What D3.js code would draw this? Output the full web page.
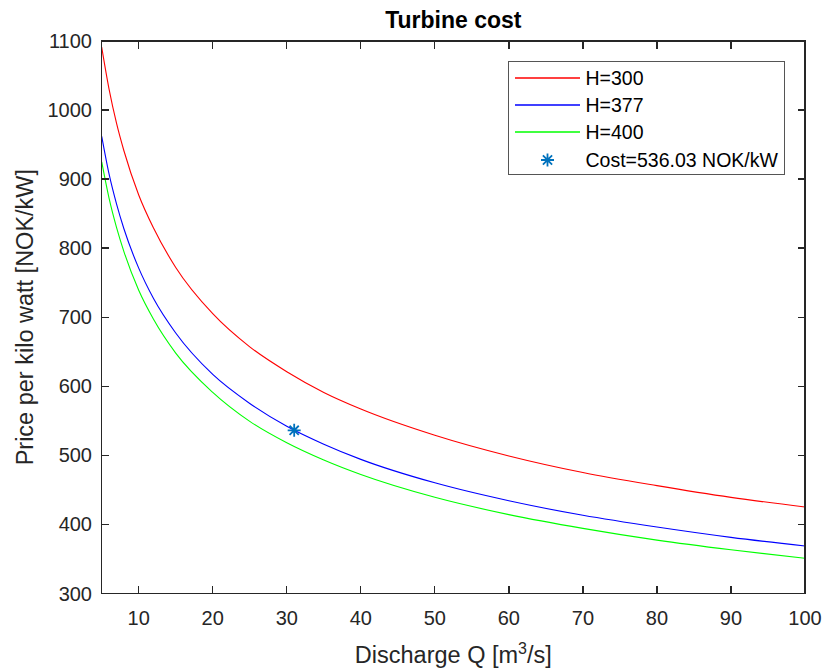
<!DOCTYPE html>
<html>
<head>
<meta charset="utf-8">
<script src="https://cdn.jsdelivr.net/npm/d3@7"></script>
<style>
  html, body { margin: 0; padding: 0; background: #fff; }
  svg { display: block; }
  text { font-family: "Liberation Sans", Arial, Helvetica, sans-serif; }
</style>
</head>
<body>
<svg id="chart" width="823" height="669"></svg>
<script>
// Discharge values (m^3/s) where the cost curves are sampled
const discharge = [5, 6, 7, 8, 10, 12, 15, 20, 25, 30, 35, 40, 50, 60, 70, 80, 90, 100];

// Price per kilowatt (NOK/kW) for each head
const costH300 = [1091, 1030, 981, 941, 877, 829, 772, 705, 657, 621, 591, 567, 529, 499, 475, 456, 439, 425];
const costH377 = [962, 907, 864, 828, 771, 727, 677, 617, 575, 542, 516, 494, 460, 434, 413, 396, 381, 368.5];
const costH400 = [925, 872, 830, 795, 739, 697, 648, 591, 549, 518, 493, 472, 439, 414, 394, 377, 363, 350.7];

const seriesNames = ["H=300", "H=377", "H=400"];
const seriesColors = ["#ff0000", "#0000ff", "#00ff00"];

// Selected operating point
const pointQ = 31;
const pointCost = 536.03;
const pointLabel = "Cost=536.03 NOK/kW";

const xTicks = [10, 20, 30, 40, 50, 60, 70, 80, 90, 100];
const yTicks = [300, 400, 500, 600, 700, 800, 900, 1000, 1100];

const svg = d3.select("#chart");
const plotLeft = 101.7, plotRight = 805, plotTop = 41, plotBottom = 593.3;
const axisColor = "#262626";

const x = d3.scaleLinear().domain([5, 100]).range([plotLeft, plotRight]);
const y = d3.scaleLinear().domain([300, 1100]).range([plotBottom, plotTop]);

// Curves
const allSeries = [costH300, costH377, costH400];
const line = d3.line()
  .x((d, i) => x(discharge[i]))
  .y(d => y(d))
  .curve(d3.curveMonotoneX);

const plot = svg.append("g");
allSeries.forEach((vals, k) => {
  plot.append("path")
    .datum(vals)
    .attr("d", line)
    .attr("fill", "none")
    .attr("stroke", seriesColors[k])
    .attr("stroke-width", 1.1);
});

// Asterisk marker
function asterisk(g, cx, cy, r) {
  const d = r * Math.SQRT1_2;
  const p = `M${cx - r},${cy}L${cx + r},${cy}M${cx},${cy - r}L${cx},${cy + r}` +
            `M${cx - d},${cy - d}L${cx + d},${cy + d}M${cx - d},${cy + d}L${cx + d},${cy - d}`;
  g.append("path").attr("d", p).attr("stroke", "#0072bd").attr("stroke-width", 1.8).attr("fill", "none");
}
asterisk(plot, x(pointQ), y(pointCost), 6.5);

// Axes (box with ticks on all four sides, ticks pointing inward)
const tickLen = 7.5;
const axes = svg.append("g").attr("shape-rendering", "crispEdges");
axes.append("rect")
  .attr("x", plotLeft).attr("y", plotTop)
  .attr("width", plotRight - plotLeft).attr("height", plotBottom - plotTop)
  .attr("fill", "none").attr("stroke", axisColor).attr("stroke-width", 1.3);

xTicks.forEach(t => {
  axes.append("line").attr("x1", x(t)).attr("x2", x(t)).attr("y1", plotBottom).attr("y2", plotBottom - tickLen)
    .attr("stroke", axisColor).attr("stroke-width", 1.3);
  axes.append("line").attr("x1", x(t)).attr("x2", x(t)).attr("y1", plotTop).attr("y2", plotTop + tickLen)
    .attr("stroke", axisColor).attr("stroke-width", 1.3);
});
yTicks.forEach(t => {
  axes.append("line").attr("x1", plotLeft).attr("x2", plotLeft + tickLen).attr("y1", y(t)).attr("y2", y(t))
    .attr("stroke", axisColor).attr("stroke-width", 1.3);
  axes.append("line").attr("x1", plotRight).attr("x2", plotRight - tickLen).attr("y1", y(t)).attr("y2", y(t))
    .attr("stroke", axisColor).attr("stroke-width", 1.3);
});

// Tick labels
const labels = svg.append("g").attr("fill", axisColor).attr("font-size", 20);
xTicks.forEach(t => {
  labels.append("text").attr("x", x(t)).attr("y", 624.5).attr("text-anchor", "middle").text(t);
});
yTicks.forEach(t => {
  labels.append("text").attr("x", 92).attr("y", y(t)).attr("dy", "0.36em").attr("text-anchor", "end").text(t);
});

// Axis labels and title
const xl = svg.append("text")
  .attr("x", (plotLeft + plotRight) / 2).attr("y", 663)
  .attr("text-anchor", "middle").attr("font-size", 23.5).attr("fill", axisColor);
xl.append("tspan").text("Discharge Q [m");
xl.append("tspan").attr("dy", -9).attr("font-size", 16).text("3");
xl.append("tspan").attr("dy", 9).text("/s]");

svg.append("text")
  .attr("transform", `translate(33,${(plotTop + plotBottom) / 2}) rotate(-90)`)
  .attr("text-anchor", "middle").attr("font-size", 23.5).attr("fill", axisColor)
  .text("Price per kilo watt [NOK/kW]");

svg.append("text")
  .attr("x", (plotLeft + plotRight) / 2).attr("y", 28)
  .attr("text-anchor", "middle").attr("font-size", 23).attr("font-weight", "bold").attr("fill", "#000")
  .text("Turbine cost");

// Legend
const lg = svg.append("g");
lg.append("rect").attr("x", 508.5).attr("y", 61.5).attr("width", 276).attr("height", 113)
  .attr("fill", "#fff").attr("stroke", "#555").attr("stroke-width", 1).attr("shape-rendering", "crispEdges");
const rowY = [78, 105, 132, 160];
seriesNames.forEach((name, k) => {
  lg.append("line").attr("x1", 515).attr("x2", 580).attr("y1", rowY[k]).attr("y2", rowY[k])
    .attr("stroke", seriesColors[k]).attr("stroke-width", 1.3);
  lg.append("text").attr("x", 585.5).attr("y", rowY[k]).attr("dy", "0.36em")
    .attr("font-size", 19.5).attr("fill", "#000").text(name);
});
asterisk(lg, 547.5, rowY[3], 6.5);
lg.append("text").attr("x", 585.5).attr("y", rowY[3]).attr("dy", "0.36em")
  .attr("font-size", 19.5).attr("fill", "#000").text(pointLabel);
</script>
</body>
</html>
